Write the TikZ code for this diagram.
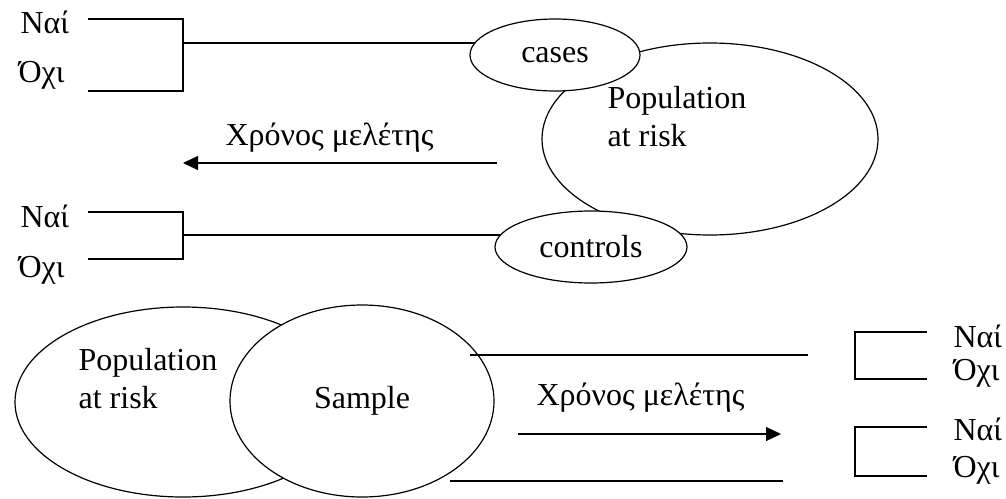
\documentclass[tikz,border=0pt]{standalone}
\usepackage{fontspec}
\setmainfont{Liberation Serif}
\usetikzlibrary{shapes.geometric,arrows.meta,backgrounds}
\begin{document}
\begin{tikzpicture}[x=1pt,y=-1pt,line width=1.2pt,every node/.style={font=\fontsize{32}{38}\selectfont}]
        \tikzstyle{group}=[ellipse,draw,fill=white,inner sep=0]
        \tikzstyle{word}=[inner sep=0,anchor=base west]
        \tikzstyle{link}=[line width=1.2pt]
        \tikzstyle{time arrow}=[-{Triangle[length=15pt,width=14pt]}]
        \useasboundingbox (0,0) rectangle (1006,498);

        \node(popA)[group,minimum width=336,minimum height=192] at (710,139) {};
        \node(cases)[group,minimum width=170,minimum height=72] at (555,55) {cases};
        \node(controls)[group,minimum width=192,minimum height=72] at (591,247) {controls};
        \node(popAtext)[word,align=left] at (607,146) {Population\\at risk};

        \node(naiA)[word] at (20,33) {Ναί};
        \node(ochiA)[word] at (18,82) {Όχι};
        \node(naiB)[word] at (20,227) {Ναί};
        \node(ochiB)[word] at (18,277) {Όχι};
        \draw (88,19) -- (183,19) -- (183,91) -- (88,91);
        \draw (88,212) -- (183,212) -- (183,259) -- (88,259);
        \coordinate (forkA) at (183,43);
        \coordinate (forkB) at (183,235);
        \begin{scope}[on background layer]
        \draw[link] (forkA) -- (forkA -| cases.center);
        \draw[link] (forkB) -- (forkB -| controls.center);
        \end{scope}

        \node(timeA)[word] at (225,145) {Χρόνος μελέτης};
        \coordinate (startA) at (497,163);
        \coordinate (endA) at (183,163);
        \draw[time arrow] (startA) -- (endA);

        \node(popB)[group,minimum width=336,minimum height=190] at (183,402) {};
        \node(sample)[group,minimum width=264,minimum height=192] at (362,401) {Sample};
        \node(popBtext)[word,align=left] at (78,408) {Population\\at risk};

        \coordinate (topB) at (470,355);
        \coordinate (topE) at (808,355);
        \coordinate (botB) at (450,481);
        \coordinate (botE) at (783,481);
        \draw (topB) -- (topE);
        \draw (botB) -- (botE);
        \node(timeB)[word] at (536,405) {Χρόνος μελέτης};
        \coordinate (startB) at (518,434);
        \coordinate (endB) at (781,434);
        \draw[time arrow] (startB) -- (endB);

        \draw (927,332) -- (855,332) -- (855,379) -- (927,379);
        \draw (927,427) -- (855,427) -- (855,476) -- (927,476);
        \node(naiC)[word] at (953,347) {Ναί};
        \node(ochiC)[word] at (953,380) {Όχι};
        \node(naiD)[word] at (953,440) {Ναί};
        \node(ochiD)[word] at (953,477) {Όχι};
    \end{tikzpicture}
\end{document}
